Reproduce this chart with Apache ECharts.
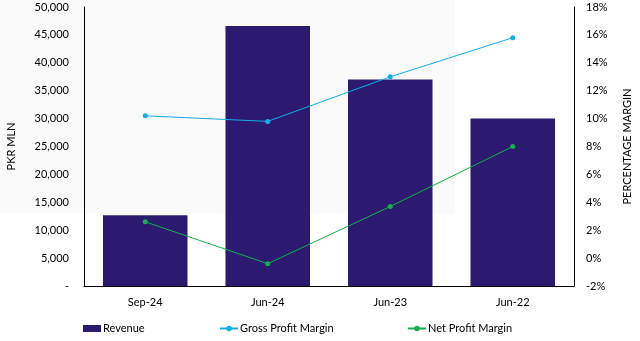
<!DOCTYPE html>
<html><head><meta charset="utf-8">
<script src="https://cdn.jsdelivr.net/npm/echarts@6/dist/echarts.min.js"></script>
<style>html,body{margin:0;padding:0;background:#fff}#c{width:640px;height:341px}</style>
</head><body><div id="c"></div>
<script>
const categories = ['Sep-24', 'Jun-24', 'Jun-23', 'Jun-22'];
const revenue = [12700, 46600, 37000, 30000];
const grossMargin = [10.2, 9.8, 13.0, 15.8];
const netMargin = [2.6, -0.4, 3.7, 8.0];

const font = 'Lato, "Open Sans", sans-serif';
function legendAt(left, name, icon) {
  return {
    top: 323, left: left, padding: 0,
    textStyle: {fontFamily: font, fontSize: 11, color: '#000', padding: [0, 0, 0, -3]},
    data: [icon ? {name: name, icon: icon} : name],
    itemWidth: 18, itemHeight: 7
  };
}
const chart = echarts.init(document.getElementById('c'), null, {renderer: 'canvas'});
chart.setOption({
  animation: false,
  backgroundColor: '#fff',
  textStyle: {fontFamily: font},
  graphic: [{type: 'rect', z: -10, shape: {x: 0, y: 0, width: 455, height: 214}, style: {fill: '#fafafa'}}],
  grid: {left: 84, right: 66, top: 7, bottom: 55, containLabel: false, outerBoundsMode: 'none'},
  legend: [
    legendAt(83, 'Revenue', 'rect'),
    legendAt(219, 'Gross Profit Margin'),
    legendAt(407, 'Net Profit Margin')
  ],
  xAxis: {
    type: 'category', data: categories,
    axisLine: {lineStyle: {color: '#000', width: 1}},
    axisTick: {show: false},
    axisLabel: {color: '#000', fontSize: 11, margin: 11, fontFamily: font}
  },
  yAxis: [{
    type: 'value', min: 0, max: 50000, interval: 5000,
    name: 'PKR MLN', nameLocation: 'middle', nameGap: 67, nameRotate: 90,
    nameTextStyle: {color: '#000', fontSize: 11, fontFamily: font},
    axisLine: {show: true, lineStyle: {color: '#000'}},
    axisTick: {show: false}, splitLine: {show: false},
    axisLabel: {color: '#000', fontSize: 11, margin: 15, fontFamily: font,
      formatter: v => v === 0 ? '-' : v.toLocaleString('en-US')}
  }, {
    type: 'value', min: -2, max: 18, interval: 2,
    name: 'PERCENTAGE MARGIN', nameLocation: 'middle', nameGap: 48, nameRotate: 90,
    nameTextStyle: {color: '#000', fontSize: 11, fontFamily: font},
    axisLine: {show: true, lineStyle: {color: '#000'}},
    axisTick: {show: false}, splitLine: {show: false},
    axisLabel: {color: '#000', fontSize: 11, margin: 12, fontFamily: font, formatter: v => v + '%'}
  }],
  series: [{
    name: 'Revenue', type: 'bar', data: revenue, yAxisIndex: 0,
    barCategoryGap: '31%', itemStyle: {color: '#2c1a70'}
  }, {
    name: 'Gross Profit Margin', type: 'line', data: grossMargin, yAxisIndex: 1,
    symbol: 'circle', symbolSize: 5, lineStyle: {color: '#13aee6', width: 1},
    itemStyle: {color: '#13aee6'}, z: 5
  }, {
    name: 'Net Profit Margin', type: 'line', data: netMargin, yAxisIndex: 1,
    symbol: 'circle', symbolSize: 5, lineStyle: {color: '#16ae50', width: 1},
    itemStyle: {color: '#16ae50'}, z: 5
  }]
});
</script></body></html>
